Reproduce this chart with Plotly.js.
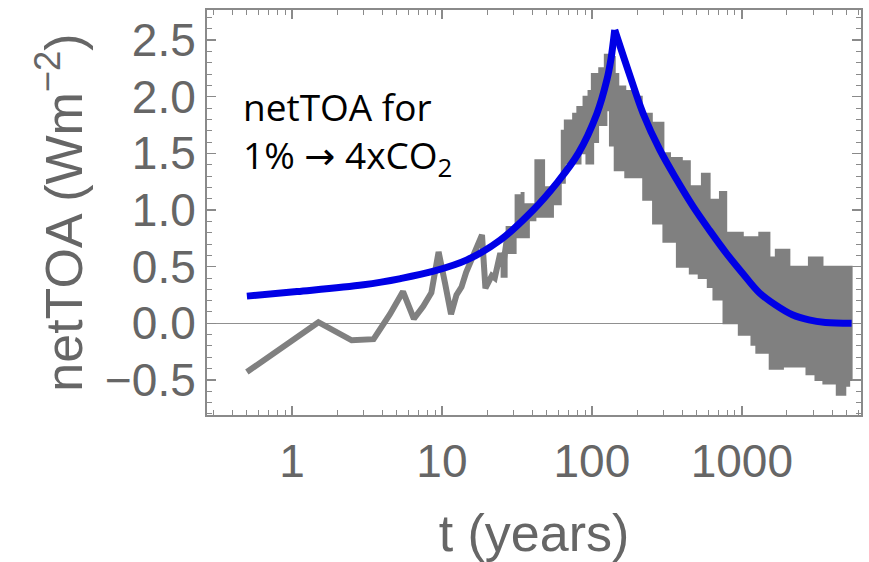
<!DOCTYPE html>
<html>
<head>
<meta charset="utf-8">
<script src="https://cdn.plot.ly/plotly-3.0.1.min.js"></script>
<style>html,body{margin:0;padding:0;background:#fff;}#chart{width:869px;height:562px;}</style>
</head>
<body>
<div id="chart"></div>
<script>
// Early annual grey netTOA values (years 0.5 .. 27.5)
const earlyT = [0.5,1.5,2.5,3.5,4.5,5.5,6.5,7.5,8.5,9.5,10.5,11.5,12.5,13.5,14.5,15.5,16.5,17.5,18.5,19.5,20.5,21.5,22.5,23.5,24.5,25.5,26.5,27.5];
const earlyV = [-0.43,0.01,-0.15,-0.14,0.08,0.28,0.04,0.15,0.27,0.63,0.35,0.08,0.25,0.32,0.45,0.55,0.62,0.72,0.78,0.31,0.36,0.42,0.40,0.55,0.62,0.50,0.70,0.80];

// Upper and lower envelopes of the noisy grey band (later years)
const bandTopT = [25,27,30,31,34,35,40,42,47,48,60,63,66,75,80,88,95,100,112,122,135,142,150,167,195,215,251,300,332,398,450,542,610,715,787,1015,1308,1528,1686,2076,2803,3452,4746,5400];
const bandTopV = [0.62,0.85,0.85,1.13,1.15,1.05,1.05,1.44,1.44,1.20,1.25,1.70,1.79,1.85,1.91,2.00,2.05,2.20,2.25,2.37,2.35,2.20,2.09,2.05,2.00,1.85,1.77,1.50,1.46,1.43,1.21,1.32,1.09,1.16,0.80,0.76,0.80,0.58,0.65,0.50,0.58,0.50,0.50,0.50];
const bandBotT = [25,27,31,38,42,47,55,62,66,84,92,102,110,125,132,142,167,195,220,256,300,369,450,516,593,647,755,955,1160,1250,1535,1880,2700,3100,3500,4300,4900,5200,5400];
const bandBotV = [0.50,0.41,0.62,0.76,0.91,0.94,0.94,1.05,1.24,1.41,1.50,1.41,1.60,1.75,1.88,1.57,1.35,1.29,1.29,1.09,0.88,0.72,0.50,0.44,0.40,0.32,0.21,0.00,-0.10,-0.19,-0.26,-0.40,-0.38,-0.45,-0.50,-0.53,-0.63,-0.55,-0.50];

// Blue fitted curve: rising and falling branches
const blueRiseT = [0.5,1.08,3,5.3,8.8,14.7,24.5,40.6,58.5,81.2,108,126,134,142];
const blueRiseV = [0.24,0.28,0.34,0.395,0.46,0.56,0.735,1.0,1.24,1.5,1.85,2.15,2.33,2.59];
const blueFallT = [142,180,220,284,369,474,610,787,1015,1308,1686,2174,2803,3614,5400];
const blueFallV = [2.59,2.18,1.85,1.53,1.265,1.03,0.82,0.62,0.44,0.27,0.16,0.075,0.03,0.008,0.0];

const xTickVals = [1,10,100,1000];
const xTickText = ['1','10','100','1000'];

const grey = '#808080';
const blue = '#0000e6';
const textGrey = '#666666';
const frameGrey = '#8a8a8a';

const bandX = bandTopT.concat(bandBotT.slice().reverse());
const bandY = bandTopV.concat(bandBotV.slice().reverse());

const traces = [
  {x: bandX, y: bandY, mode: 'lines', fill: 'toself', fillcolor: grey,
   line: {color: grey, width: 2, shape: 'hv'}, hoverinfo: 'skip', showlegend: false},
  {x: earlyT, y: earlyV, mode: 'lines', line: {color: grey, width: 6}, showlegend: false},
  {x: blueRiseT, y: blueRiseV, mode: 'lines', line: {color: blue, width: 7, shape: 'spline', smoothing: 1}, showlegend: false},
  {x: blueFallT, y: blueFallV, mode: 'lines', line: {color: blue, width: 7, shape: 'spline', smoothing: 1}, showlegend: false}
];

const tickFont = {family: 'Liberation Sans, Arial, sans-serif', size: 46, color: textGrey};
const titleFont = {family: 'Liberation Sans, Arial, sans-serif', size: 52, color: textGrey};

const layout = {
  width: 869, height: 562,
  margin: {l: 207, r: 8, t: 10, b: 147},
  paper_bgcolor: '#ffffff', plot_bgcolor: '#ffffff',
  showlegend: false,
  xaxis: {
    type: 'log', range: [-0.567, 3.795],
    tickmode: 'array', tickvals: xTickVals, ticktext: xTickText,
    ticks: 'inside', ticklen: 9, tickwidth: 1.5, tickcolor: frameGrey,
    minor: {ticks: 'inside', ticklen: 5, tickwidth: 1, tickcolor: frameGrey, dtick: 'D1'},
    mirror: 'allticks', showline: true, linecolor: frameGrey, linewidth: 2,
    showgrid: false, zeroline: false,
    tickfont: tickFont, ticklabelstandoff: 5,
    title: {text: 't (years)', font: titleFont, standoff: 30},
    automargin: false
  },
  yaxis: {
    range: [-0.809, 2.765],
    tick0: 0, dtick: 0.5, tickformat: '.1f',
    ticks: 'inside', ticklen: 9, tickwidth: 1.5, tickcolor: frameGrey,
    minor: {ticks: 'inside', ticklen: 5, tickwidth: 1, tickcolor: frameGrey, dtick: 0.1},
    mirror: 'allticks', showline: true, linecolor: frameGrey, linewidth: 2,
    showgrid: false,
    zeroline: true, zerolinecolor: '#909090', zerolinewidth: 1,
    tickfont: tickFont,
    title: {text: 'netTOA (Wm<sup>−2</sup>)', font: titleFont, standoff: 6},
    automargin: false
  },
  annotations: [{
    xref: 'paper', yref: 'paper', x: 0.052, y: 0.83,
    xanchor: 'left', yanchor: 'top', align: 'left', showarrow: false,
    text: 'netTOA for<br>1% <span style="font-family:DejaVu Sans">→</span> 4xCO<sub>2</sub>',
    font: {family: 'Open Sans, sans-serif', size: 37, color: '#000000'}
  }]
};

Plotly.newPlot('chart', traces, layout, {staticPlot: true, displayModeBar: false});
</script>
</body>
</html>
